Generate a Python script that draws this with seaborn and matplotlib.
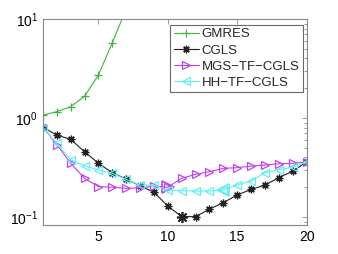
import pandas as pd
import matplotlib
matplotlib.use("Agg")
import matplotlib.pyplot as plt
import seaborn as sns

iters = list(range(1, 21))
gmres = [1.07, 1.16, 1.30, 1.66, 2.72, 5.77, 12.6, 27, 55, 110, 220, 430, 850, 1700, 3300, 6500, 13000, 25000, 50000, 100000]
cgls = [0.805, 0.673, 0.609, 0.457, 0.349, 0.280, 0.242, 0.207, 0.178, 0.129,
        0.101, 0.101, 0.120, 0.140, 0.167, 0.190, 0.210, 0.250, 0.290, 0.360]
mgs = [0.81, 0.54, 0.35, 0.246, 0.203, 0.200, 0.195, 0.197, 0.205, 0.200,
       0.246, 0.270, 0.287, 0.310, 0.315, 0.327, 0.335, 0.345, 0.349, 0.360]
hh = [0.80, 0.555, 0.38, 0.327, 0.300, 0.277, 0.240, 0.210, 0.210, 0.187,
      0.185, 0.183, 0.183, 0.187, 0.210, 0.230, 0.280, 0.300, 0.320, 0.360]
names = ['GMRES', 'CGLS', 'MGS\u2212TF\u2212CGLS', 'HH\u2212TF\u2212CGLS']
# iterate that is highlighted with a bigger marker
best = {'CGLS': 11, 'MGS\u2212TF\u2212CGLS': 10, 'HH\u2212TF\u2212CGLS': 14}

series = dict(zip(names, [gmres, cgls, mgs, hh]))
colors = {'GMRES': '#3cb83c', 'CGLS': '#222222',
          'MGS\u2212TF\u2212CGLS': '#c040f0', 'HH\u2212TF\u2212CGLS': '#60f0f0'}
markers = {'GMRES': '+', 'CGLS': (8, 2, 0), 'MGS\u2212TF\u2212CGLS': '>', 'HH\u2212TF\u2212CGLS': '<'}

sns.set_style('white')
plt.rcParams['font.family'] = ['Liberation Sans', 'DejaVu Sans']

fig = plt.figure(figsize=(3.38, 2.54), dpi=100)
ax = fig.add_axes([0.127, 0.114, 0.78, 0.811])

for n in names:
    df = pd.DataFrame({'it': iters, 'res': series[n]})
    hollow = n not in ('GMRES', 'CGLS')
    sns.lineplot(x='it', y='res', data=df, ax=ax, color=colors[n], label=n,
                 marker=markers[n], markersize=6 if n != 'CGLS' else 5.5,
                 markerfacecolor='none' if hollow else colors[n],
                 markeredgecolor=colors[n], markeredgewidth=0.9, linewidth=0.8)
    if n in best:
        k = best[n]
        ax.plot([k], [series[n][k - 1]], marker=markers[n],
                markersize=9 if hollow else 8,
                color=colors[n], markerfacecolor='none' if hollow else colors[n],
                markeredgewidth=1.2, linestyle='none')

ax.set_yscale('log')
ax.set_xlim(1, 20)
ax.set_ylim(0.083, 10)
ax.set_xticks([5, 10, 15, 20])
ax.set_xlabel('')
ax.set_ylabel('')
for s in ax.spines.values():
    s.set_color('#888888')
    s.set_linewidth(0.8)
ax.tick_params(axis='both', which='both', direction='in', top=True, right=True,
               labelsize=10, colors='#888888', labelcolor='black', width=0.6)
ax.tick_params(which='major', length=3.5)
ax.tick_params(which='minor', length=2)

leg = ax.legend(loc='upper right', bbox_to_anchor=(0.995, 0.985), fontsize=9.5,
                frameon=True, fancybox=False, handlelength=1.9, handletextpad=0.2,
                borderpad=0.25, labelspacing=0.3, borderaxespad=0.2)
leg.get_frame().set_edgecolor('#444444')
leg.get_frame().set_linewidth(0.8)

fig.savefig('out.png', dpi=100)
